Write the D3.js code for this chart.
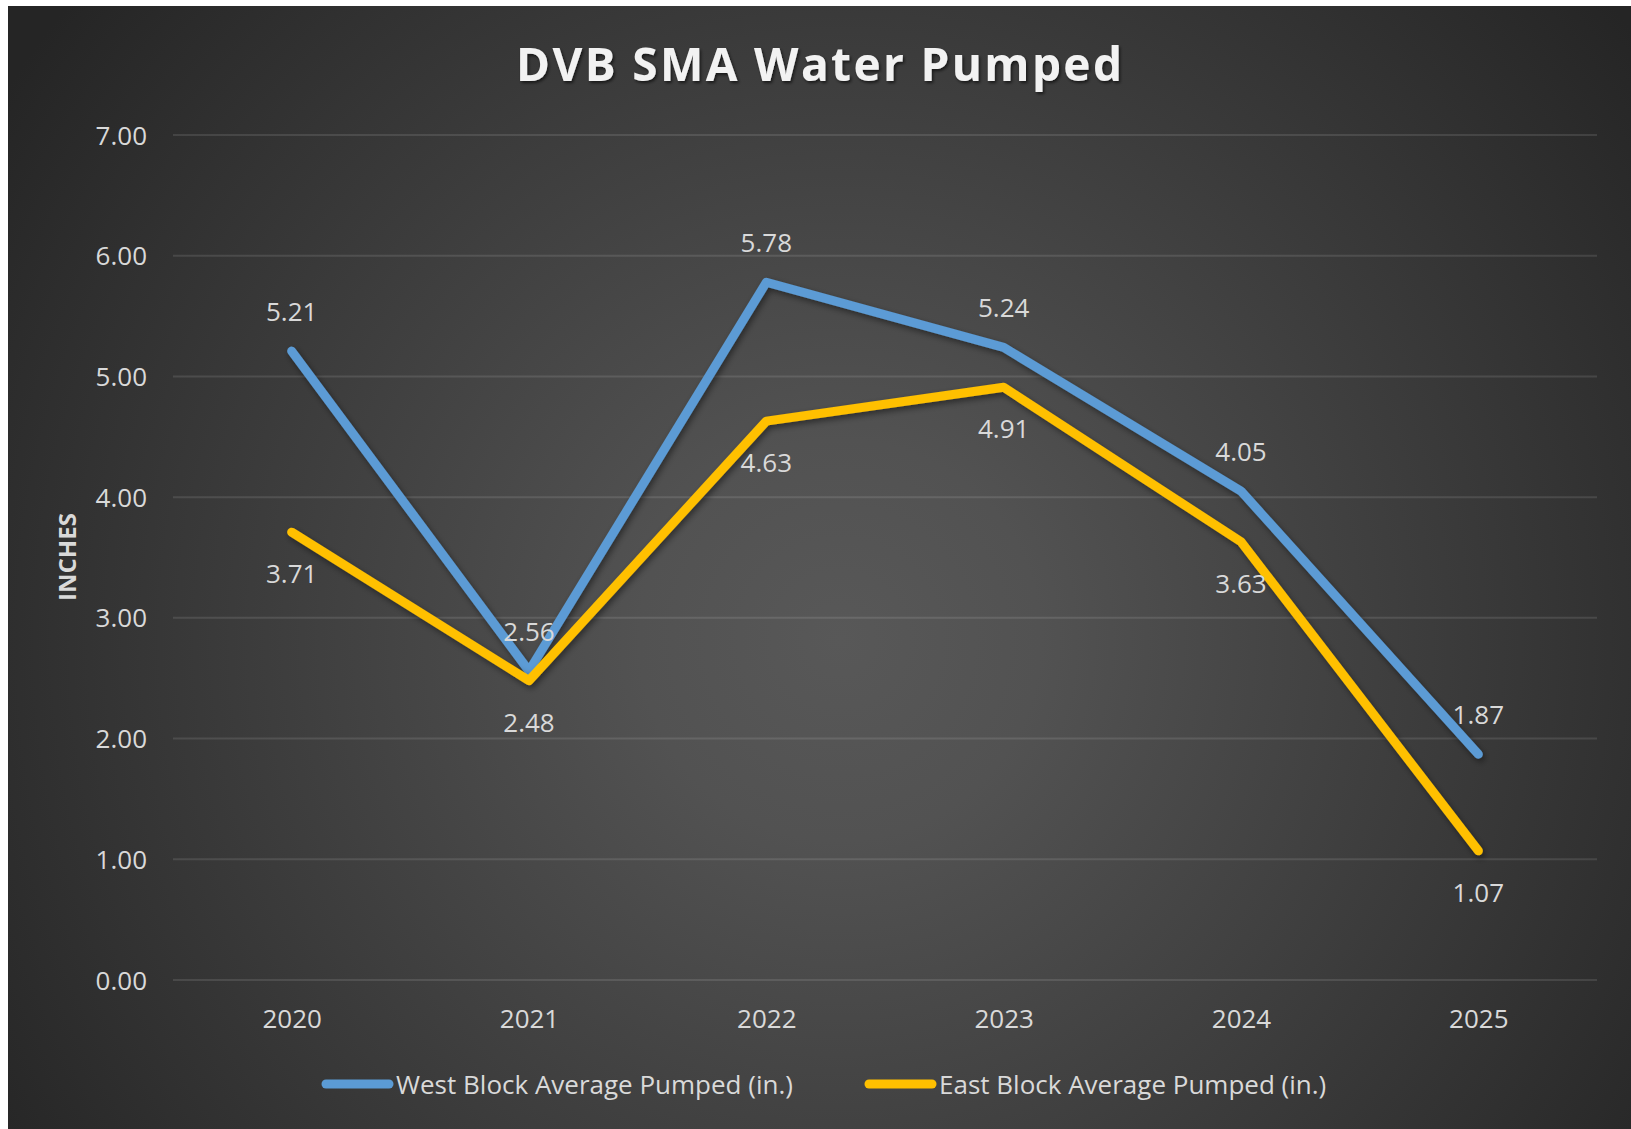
<!DOCTYPE html>
<html>
<head>
<meta charset="utf-8">
<script src="https://cdn.jsdelivr.net/npm/d3@7"></script>
<style>
  html, body { margin: 0; padding: 0; background: #ffffff; }
  svg { display: block; }
  text { font-family: "Open Sans", "Noto Sans", sans-serif; }
</style>
</head>
<body>
<svg id="chart" width="1631" height="1129"></svg>
<script>
// Years on the category axis
const years = ["2020", "2021", "2022", "2023", "2024", "2025"];
// Average water pumped per block, inches
const westValues = [5.21, 2.56, 5.78, 5.24, 4.05, 1.87];
const eastValues = [3.71, 2.48, 4.63, 4.91, 3.63, 1.07];
const seriesNames = ["West Block Average Pumped (in.)", "East Block Average Pumped (in.)"];
const yTicks = [0, 1, 2, 3, 4, 5, 6, 7];
const titleText = "DVB SMA Water Pumped";
const yAxisTitle = "INCHES";

const W = 1631, H = 1129;
const svg = d3.select("#chart");
const defs = svg.append("defs");

// Dark radial background of the chart area
const grad = defs.append("radialGradient")
  .attr("id", "bg").attr("gradientUnits", "userSpaceOnUse")
  .attr("cx", 840).attr("cy", 640).attr("r", 1000);
grad.append("stop").attr("offset", 0).attr("stop-color", "#585858");
grad.append("stop").attr("offset", 0.2).attr("stop-color", "#525252");
grad.append("stop").attr("offset", 1).attr("stop-color", "#252525");

const shadow = defs.append("filter").attr("id", "lineShadow")
  .attr("x", "-10%").attr("y", "-10%").attr("width", "120%").attr("height", "130%");
shadow.append("feDropShadow").attr("dx", 2).attr("dy", 3)
  .attr("stdDeviation", 3).attr("flood-color", "#000").attr("flood-opacity", 0.45);

const textShadow = defs.append("filter").attr("id", "titleShadow")
  .attr("x", "-5%").attr("y", "-20%").attr("width", "110%").attr("height", "150%");
textShadow.append("feDropShadow").attr("dx", 1.5).attr("dy", 2)
  .attr("stdDeviation", 1.5).attr("flood-color", "#000").attr("flood-opacity", 0.6);

svg.append("rect").attr("x", 8).attr("y", 6)
  .attr("width", W - 8).attr("height", H - 6).attr("fill", "url(#bg)");

const x = d3.scalePoint().domain(years).range([173, 1597]).padding(0.5);
const y = d3.scaleLinear().domain([0, 7]).range([980, 135]);

// Horizontal gridlines
svg.append("g").selectAll("line").data(yTicks).join("line")
  .attr("x1", 173).attr("x2", 1597)
  .attr("y1", d => y(d)).attr("y2", d => y(d))
  .attr("stroke", "rgba(255,255,255,0.11)").attr("stroke-width", 2);

// Y axis labels
const yAxis = d3.axisLeft(y).tickValues(yTicks).tickFormat(d3.format(".2f")).tickSize(0).tickPadding(0);
const yg = svg.append("g").attr("transform", "translate(147,0)").call(yAxis);
yg.select(".domain").remove();
yg.selectAll("text").attr("font-size", 26).attr("fill", "#d9d9d9")
  .attr("font-family", "Open Sans").attr("dy", "0.35em");

// X axis labels
const xAxis = d3.axisBottom(x).tickSize(0).tickPadding(0);
const xg = svg.append("g").attr("transform", "translate(0,1028)").call(xAxis);
xg.select(".domain").remove();
xg.selectAll("text").attr("font-size", 26).attr("fill", "#d9d9d9")
  .attr("font-family", "Open Sans").attr("dy", 0);

// Title
svg.append("text").attr("x", 819).attr("y", 81)
  .attr("text-anchor", "middle").attr("font-size", 46).attr("font-weight", 700)
  .attr("fill", "#f2f2f2").attr("filter", "url(#titleShadow)")
  .attr("textLength", 606).attr("lengthAdjust", "spacing")
  .text(titleText);

// Y axis title
svg.append("text")
  .attr("transform", "translate(76,557) rotate(-90)")
  .attr("text-anchor", "middle").attr("font-size", 24).attr("font-weight", 700)
  .attr("fill", "#d9d9d9").text(yAxisTitle);

const line = d3.line().x((d, i) => x(years[i])).y(d => y(d));
const series = [
  { name: seriesNames[0], values: westValues, color: "#5B9BD5", above: true },
  { name: seriesNames[1], values: eastValues, color: "#FFC000", above: false }
];

series.forEach(s => {
  svg.append("path").datum(s.values)
    .attr("d", line).attr("fill", "none")
    .attr("stroke", s.color).attr("stroke-width", 9)
    .attr("stroke-linecap", "round").attr("stroke-linejoin", "round")
    .attr("filter", "url(#lineShadow)");
});

// Value labels: west above its points, east below
series.forEach(s => {
  svg.append("g").selectAll("text").data(s.values).join("text")
    .attr("x", (d, i) => x(years[i]))
    .attr("y", d => y(d) + (s.above ? -30 : 51))
    .attr("text-anchor", "middle").attr("font-size", 26).attr("fill", "#d9d9d9")
    .text(d => d3.format(".2f")(d));
});

// Legend
const legendItems = [
  { name: seriesNames[0], color: "#5B9BD5", x0: 322 },
  { name: seriesNames[1], color: "#FFC000", x0: 865 }
];
const lg = svg.append("g");
legendItems.forEach(item => {
  lg.append("line").attr("x1", item.x0 + 4).attr("x2", item.x0 + 67)
    .attr("y1", 1084).attr("y2", 1084)
    .attr("stroke", item.color).attr("stroke-width", 9).attr("stroke-linecap", "round");
  lg.append("text").attr("x", item.x0 + 74).attr("y", 1094)
    .attr("font-size", 26).attr("fill", "#d9d9d9").text(item.name);
});
</script>
</body>
</html>
